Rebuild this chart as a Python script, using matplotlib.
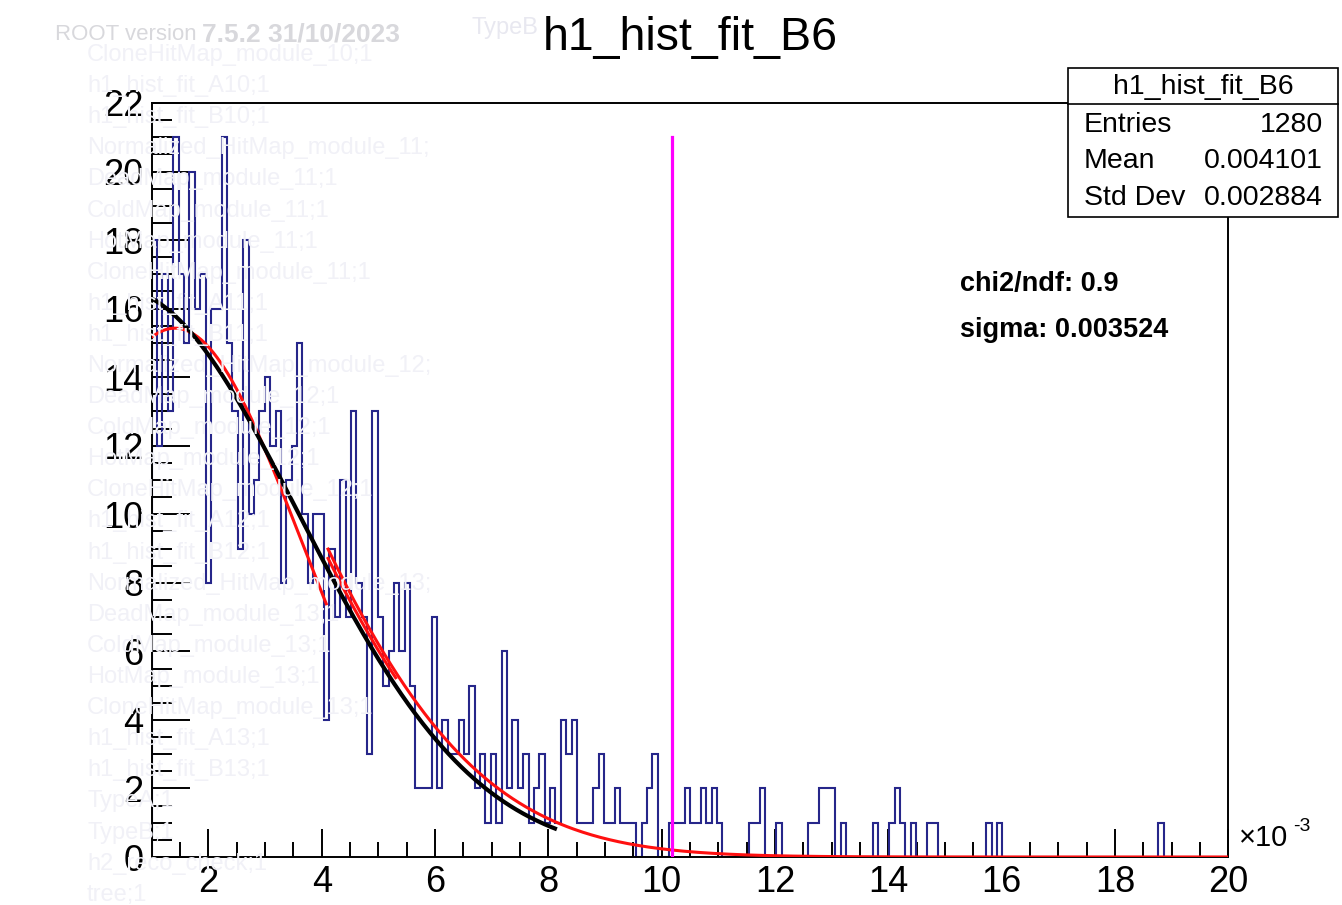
import numpy as np
import matplotlib.pyplot as plt
from matplotlib.patches import Rectangle
from matplotlib.lines import Line2D

plt.rcParams['font.family'] = ['Liberation Sans', 'DejaVu Sans']

# histogram h1_hist_fit_B6 : 200 bins on [1, 20] (x 10^-3)
x_min, x_max, n_bins = 1.0, 20.0, 200
counts = [18, 12, 17, 13, 21, 17, 15, 20, 16, 17,
          8, 16, 16, 21, 15, 13, 9, 18, 10, 11,
          13, 14, 12, 13, 8, 11, 12, 15, 10, 8,
          10, 10, 4, 9, 7, 11, 7, 13, 8, 7,
          3, 13, 7, 5, 6, 8, 6, 8, 5, 2,
          2, 2, 7, 2, 4, 3, 3, 4, 3, 5,
          2, 3, 1, 3, 1, 6, 2, 4, 2, 3,
          1, 2, 3, 1, 2, 1, 4, 3, 4, 1,
          1, 1, 2, 3, 1, 1, 2, 1, 1, 1,
          0, 1, 2, 3, 0, 0, 1, 1, 1, 2,
          1, 1, 2, 1, 2, 1, 0, 0, 0, 0,
          0, 1, 1, 2, 0, 0, 1, 0, 0, 0,
          0, 0, 1, 1, 2, 2, 2, 0, 1, 0,
          0, 0, 0, 0, 1, 0, 0, 1, 2, 1,
          0, 1, 0, 0, 1, 1, 0, 0, 0, 0,
          0, 0, 0, 0, 0, 1, 0, 1, 0, 0,
          0, 0, 0, 0, 0, 0, 0, 0, 0, 0,
          0, 0, 0, 0, 0, 0, 0, 0, 0, 0,
          0, 0, 0, 0, 0, 0, 0, 1, 0, 0,
          0, 0, 0, 0, 0, 0, 0, 0, 0, 0]

# fitted gaussians (amplitude, mean, sigma, range)
black_fit = (16.54, 0.46, 3.13, 1.0, 8.15)
red_fits = [(15.43, 1.41, 2.20, 1.0, 4.09),
            (21.96, -0.60, 3.524, 4.10, 20.0),
            (21.30, -0.60, 3.524, 4.10, 5.32)]
cut_x = 10.18
cut_top = 21.0

stats_name = 'h1_hist_fit_B6'
stats_rows = [('Entries', '1280'), ('Mean', '0.004101'), ('Std Dev', '0.002884')]
fit_texts = ['chi2/ndf: 0.9', 'sigma: 0.003524']

# faint browser list showing through behind the canvas
ghost_items = ['CloneHitMap_module_10;1', 'h1_hist_fit_A10;1', 'h1_hist_fit_B10;1',
               'Normalized_HitMap_module_11;', 'DeadMap_module_11;1', 'ColdMap_module_11;1',
               'HotMap_module_11;1', 'CloneHitMap_module_11;1', 'h1_hist_fit_A11;1',
               'h1_hist_fit_B11;1', 'Normalized_HitMap_module_12;', 'DeadMap_module_12;1',
               'ColdMap_module_12;1', 'HotMap_module_12;1', 'CloneHitMap_module_12;1',
               'h1_hist_fit_A12;1', 'h1_hist_fit_B12;1', 'Normalized_HitMap_module_13;',
               'DeadMap_module_13;1', 'ColdMap_module_13;1', 'HotMap_module_13;1',
               'CloneHitMap_module_13;1', 'h1_hist_fit_A13;1', 'h1_hist_fit_B13;1',
               'TypeA;1', 'TypeB;1', 'h2_reco_check;1', 'tree;1']

W, H = 1342, 905
fig = plt.figure(figsize=(W / 100, H / 100), dpi=100)


def fx(px):
    return px / W


def fy(py):
    return 1 - py / H


for i, s in enumerate(ghost_items):
    fig.text(fx(87), fy(55 + 31.1 * i), s, fontsize=17, color='#f1f1f7',
             va='center', ha='left', zorder=0)
fig.text(fx(55), fy(35), 'ROOT version', fontsize=16, color='#d8d8dc', va='center')
fig.text(fx(202), fy(35), '7.5.2 31/10/2023', fontsize=19, color='#d8d8dc',
         va='center', fontweight='bold')
fig.text(fx(472), fy(28), 'TypeB', fontsize=17, color='#e8e8f0', va='center')

ax = fig.add_axes([fx(151.7), fy(857), fx(1228.4) - fx(151.7), fy(103) - fy(857)])
ax.patch.set_alpha(0)

edges = np.linspace(x_min, x_max, n_bins + 1)
ax.stairs(counts, edges, color='#26268a', lw=1.5, zorder=2)


def gaus(p, n=400):
    a, mu, sig, lo, hi = p
    xs = np.linspace(lo, hi, n)
    return xs, a * np.exp(-0.5 * ((xs - mu) / sig) ** 2)


xs, ys = gaus(black_fit)
ax.plot(xs, ys, color='black', lw=3.0, zorder=4, solid_capstyle='butt')
for p in red_fits:
    xs, ys = gaus(p)
    ax.plot(xs, ys, color='#ff1010', lw=2.2, zorder=3, solid_capstyle='butt')

ax.plot([cut_x, cut_x], [0, cut_top], color='#ff00ff', lw=2.3, zorder=5)

ax.set_xlim(x_min, x_max)
ax.set_ylim(0, 22)
ax.set_xticks(np.arange(2, 21, 2))
ax.set_xticks(np.arange(1.5, 20, 0.5), minor=True)
ax.set_yticks(np.arange(0, 23, 2))
ax.set_yticks(np.arange(0, 22.1, 0.5), minor=True)
ax.tick_params(which='both', direction='in', top=False, right=False, width=1.4,
               labelsize=26, color='black')
ax.tick_params(axis='x', which='major', length=20, pad=6)
ax.tick_params(axis='x', which='minor', length=10.5)
ax.tick_params(axis='y', which='major', length=27, pad=6)
ax.tick_params(axis='y', which='minor', length=14.5)
for s in ax.spines.values():
    s.set_linewidth(1.4)

# x10^-3 axis exponent
fig.text(fx(1239), fy(838), '\u00d710', fontsize=21, va='center', ha='left')
fig.text(fx(1293), fy(826), '-3', fontsize=14, va='center', ha='left')

# fit result texts
for i, t in enumerate(fit_texts):
    fig.text(fx(960), fy(284 + 46 * i), t, fontsize=19.5, fontweight='bold',
             va='center', ha='left')

# stats box
fig.patches.append(Rectangle((fx(1068), fy(217)), fx(1338) - fx(1068), fy(68) - fy(217),
                             transform=fig.transFigure, facecolor='white',
                             edgecolor='black', lw=1.2, zorder=10))
fig.lines.append(Line2D([fx(1068), fx(1338)], [fy(104), fy(104)],
                        transform=fig.transFigure, color='black', lw=1.2, zorder=11))
fig.text(fx(1203), fy(87), stats_name, fontsize=20.5, ha='center', va='center', zorder=12)
for i, (k, v) in enumerate(stats_rows):
    y = fy(125 + 36.5 * i)
    fig.text(fx(1084), y, k, fontsize=20.5, ha='left', va='center', zorder=12)
    fig.text(fx(1323), y, v, fontsize=20.5, ha='right', va='center', zorder=12)

# main title
fig.text(fx(690.5), fy(38), stats_name, fontsize=33.5, ha='center', va='center')

fig.savefig('out.png', dpi=100)
